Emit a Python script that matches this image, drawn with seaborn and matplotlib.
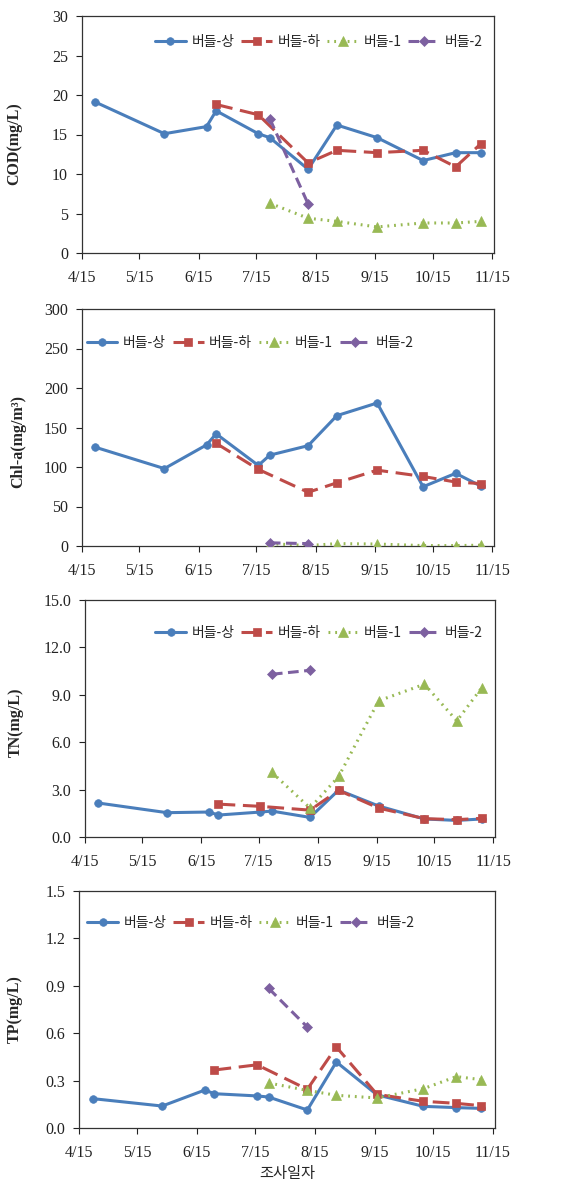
import pandas as pd
import seaborn as sns
import matplotlib.pyplot as plt

YEAR = 2011

# 조사일자 (month/day) per site
dates_upper = ['4/22', '5/28', '6/19', '6/24', '7/16', '7/22', '8/11', '8/26', '9/16', '10/10', '10/27', '11/9']
dates_lower = ['6/24', '7/16', '8/11', '8/26', '9/16', '10/10', '10/27', '11/9']
dates_site1 = ['7/22', '8/11', '8/26', '9/16', '10/10', '10/27', '11/9']
dates_site2 = ['7/22', '8/11']

site_names = ['버들-상', '버들-하', '버들-1', '버들-2']

cod_upper = [19.1, 15.1, 16.0, 18.0, 15.1, 14.6, 10.6, 16.2, 14.6, 11.7, 12.7, 12.7]
cod_lower = [18.8, 17.5, 11.4, 13.0, 12.7, 13.0, 10.9, 13.8]
cod_site1 = [6.3, 4.4, 4.0, 3.3, 3.8, 3.8, 4.0]
cod_site2 = [17.0, 6.2]

chla_upper = [125, 98, 128, 142, 102, 115, 127, 165, 181, 75, 92, 76]
chla_lower = [130, 97, 68, 80, 96, 88, 81, 79]
chla_site1 = [3.0, 0.5, 3.0, 2.5, 0.5, 0.5, 1.0]
chla_site2 = [4.0, 3.0]

tn_upper = [2.15, 1.54, 1.58, 1.39, 1.58, 1.64, 1.24, 2.97, 1.96, 1.14, 1.05, 1.14]
tn_lower = [2.08, 1.94, 1.70, 2.95, 1.83, 1.16, 1.10, 1.18]
tn_site1 = [4.09, 1.83, 3.83, 8.62, 9.67, 7.35, 9.44]
tn_site2 = [10.30, 10.55]

tp_upper = [0.186, 0.139, 0.240, 0.217, 0.203, 0.196, 0.114, 0.418, 0.210, 0.137, 0.129, 0.124]
tp_lower = [0.367, 0.400, 0.245, 0.513, 0.213, 0.169, 0.156, 0.141]
tp_site1 = [0.285, 0.238, 0.207, 0.190, 0.249, 0.325, 0.306]
tp_site2 = [0.884, 0.639]

tick_dates = ['4/15', '5/15', '6/15', '7/15', '8/15', '9/15', '10/15', '11/15']


def to_dates(md):
    return pd.to_datetime([f'{YEAR}/{d}' for d in md], format='%Y/%m/%d')


sns.set_style('ticks')
plt.rcParams['font.family'] = ['Liberation Serif', 'DejaVu Serif']

colors = ['#4A7EBB', '#BE4B48', '#98B954', '#7D60A0']
markers = ['o', 's', '^', 'D']
msizes = [5.5, 6, 7.5, 5.5]
styles = ['-', (0, (5.5, 2.5)), (0, (0.6, 1.6)), (0, (3.5, 1.8))]
all_dates = [dates_upper, dates_lower, dates_site1, dates_site2]

panels = [
    dict(rect=(82, 494, 16, 253), ylim=30, step=5, fmt='{:.0f}',
         data=[cod_upper, cod_lower, cod_site1, cod_site2],
         ylabel='COD(mg/L)', ylab_xy=(-0.165, 0.46),
         leg=('center right', (0.972, 0.89))),
    dict(rect=(82, 494, 309, 546), ylim=300, step=50, fmt='{:.0f}',
         data=[chla_upper, chla_lower, chla_site1, chla_site2],
         ylabel='Chl-a(mg/m³)', ylab_xy=(-0.155, 0.44),
         leg=('center left', (0.012, 0.857))),
    dict(rect=(85, 495, 600, 837), ylim=15, step=3, fmt='{:.1f}',
         data=[tn_upper, tn_lower, tn_site1, tn_site2],
         ylabel='TN(mg/L)', ylab_xy=(-0.168, 0.485),
         leg=('center right', (0.970, 0.861))),
    dict(rect=(79, 495, 891, 1128), ylim=1.5, step=0.3, fmt='{:.1f}',
         data=[tp_upper, tp_lower, tp_site1, tp_site2],
         ylabel='TP(mg/L)', ylab_xy=(-0.155, 0.5),
         leg=('center left', (0.02, 0.865))),
]

W, H = 588, 1196
fig = plt.figure(figsize=(W / 100, H / 100), dpi=100)

for i, p in enumerate(panels):
    l, r, t, b = p['rect']
    ax = fig.add_axes([l / W, 1 - b / H, (r - l) / W, (b - t) / H])
    for k in range(4):
        sns.lineplot(x=to_dates(all_dates[k]), y=p['data'][k], ax=ax,
                     color=colors[k], marker=markers[k], markersize=msizes[k],
                     mec=colors[k], mew=0.5, linewidth=2.2, linestyle=styles[k],
                     label=site_names[k], zorder=3 + k)

    ax.set_xlim(to_dates(['4/15'])[0], to_dates(['11/16'])[0])
    ax.set_xticks(to_dates(tick_dates))
    ax.set_xticklabels(tick_dates)
    ax.set_ylim(0, p['ylim'])
    yt = [round(p['step'] * j, 2) for j in range(int(round(p['ylim'] / p['step'])) + 1)]
    ax.set_yticks(yt)
    ax.set_yticklabels([p['fmt'].format(v) for v in yt])
    ax.tick_params(axis='both', direction='out', length=4, width=0.8,
                   labelsize=11.5, colors='#222222')
    ax.tick_params(axis='y', pad=6)
    ax.tick_params(axis='x', pad=8)
    for s in ax.spines.values():
        s.set_color('#333333')
        s.set_linewidth(0.9)

    ax.set_ylabel(p['ylabel'], fontsize=11.5, fontweight='bold', va='center')
    ax.yaxis.set_label_coords(*p['ylab_xy'])
    ax.set_xlabel('')

    loc, anchor = p['leg']
    ax.legend(loc=loc, bbox_to_anchor=anchor, ncol=4, frameon=False,
              borderpad=0, borderaxespad=0, handlelength=2.2,
              handletextpad=0.4, columnspacing=0.5,
              prop={'family': 'Noto Sans CJK KR', 'size': 10})

    if i == 3:
        ax.set_xlabel('조사일자', fontsize=11, family='Noto Sans CJK KR', labelpad=3)

fig.savefig('out.png', dpi=100)
